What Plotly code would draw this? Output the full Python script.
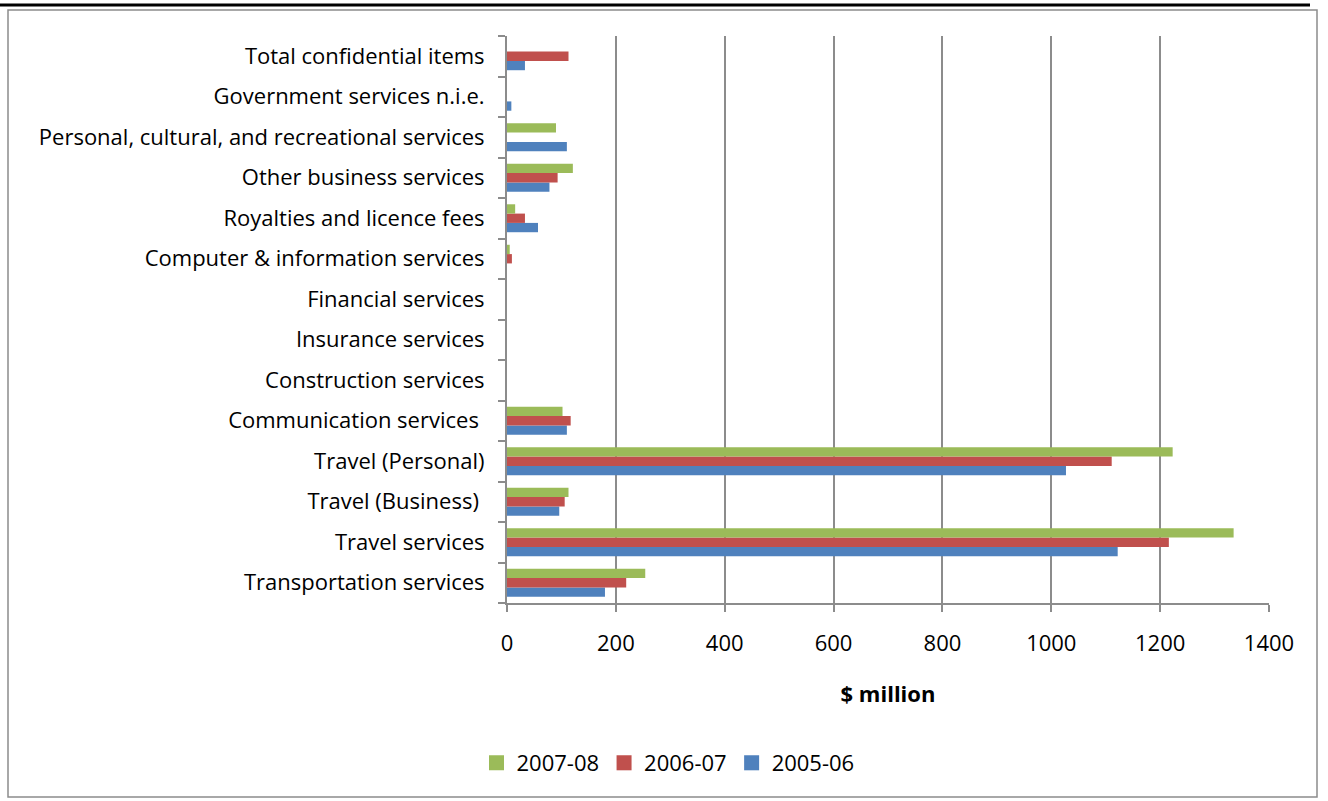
import plotly.graph_objects as go

categories = [
    "Transportation services",
    "Travel services",
    "Travel (Business)\u00a0",
    "Travel (Personal)",
    "Communication services\u00a0",
    "Construction services",
    "Insurance services",
    "Financial services",
    "Computer & information services",
    "Royalties and licence fees",
    "Other business services",
    "Personal, cultural, and recreational services",
    "Government services n.i.e.",
    "Total confidential items",
]

v_2005_06 = [180, 1122, 96, 1027, 110, None, None, None, None, 57, 78, 110, 8, 33]
v_2006_07 = [219, 1216, 106, 1111, 117, None, None, None, 9, 33, 93, None, None, 113]
v_2007_08 = [254, 1335, 113, 1223, 102, None, None, None, 5, 15, 121, 90, None, None]

series = [
    ("2005-06", v_2005_06, "#4F81BD"),
    ("2006-07", v_2006_07, "#C0504D"),
    ("2007-08", v_2007_08, "#9BBB59"),
]

FONT = "Open Sans"
FS = 22
W, H = 1328, 801
L, R, T, B = 507, 1269, 36, 603   # plot area in screenshot pixels
pw, ph = R - L, B - T

def px(x):
    return (x - L) / pw

def py(y):
    return (B - y) / ph

fig = go.Figure()
for name, vals, col in series:
    fig.add_trace(go.Bar(
        y=categories, x=vals, name=name, orientation="h",
        marker=dict(color=col, line=dict(width=0)),
        showlegend=False,
    ))
# legend entries with larger square keys
for name, vals, col in series:
    fig.add_trace(go.Scatter(
        x=[None], y=[None], mode="markers", name=name,
        marker=dict(symbol="square", size=15, color=col),
        showlegend=True,
    ))

fig.update_layout(
    width=W, height=H,
    margin=dict(l=L, r=W - R, t=T, b=H - B, pad=0),
    paper_bgcolor="white", plot_bgcolor="white",
    barmode="group", bargap=0.31, bargroupgap=0,
    font=dict(family=FONT, size=FS, color="black"),
    showlegend=True,
    legend=dict(
        orientation="h", traceorder="reversed",
        x=px(668), xanchor="center", y=py(763), yanchor="middle",
        font=dict(family=FONT, size=FS, color="black"),
        itemwidth=30, bgcolor="rgba(0,0,0,0)",
    ),
    xaxis=dict(
        range=[0, 1400], dtick=200, tick0=0,
        showgrid=True, gridcolor="#8C8C8C", gridwidth=2,
        zeroline=False,
        showline=True, linecolor="#8C8C8C", linewidth=2,
        ticks="outside", ticklen=7, tickwidth=2, tickcolor="#8C8C8C",
        ticklabelstandoff=13,
        tickfont=dict(family=FONT, size=FS, color="black"),
        title=dict(text="<b>$ million</b>", font=dict(family=FONT, size=FS, color="black"), standoff=30),
        fixedrange=True,
    ),
    yaxis=dict(
        type="category", categoryorder="array", categoryarray=categories,
        showgrid=False, zeroline=False,
        showline=True, linecolor="#8C8C8C", linewidth=2,
        ticks="outside", ticklen=7, tickwidth=2, tickcolor="#8C8C8C",
        tickson="boundaries",
        ticklabelstandoff=16,
        tickfont=dict(family=FONT, size=FS, color="black"),
        fixedrange=True,
    ),
    shapes=[
        dict(type="rect", xref="paper", yref="paper",
             x0=px(8), x1=px(1317), y0=py(797), y1=py(10),
             line=dict(color="#8C8C8C", width=1.5), fillcolor="rgba(0,0,0,0)", layer="below"),
        dict(type="line", xref="paper", yref="paper",
             x0=px(0), x1=px(1310), y0=py(5), y1=py(5),
             line=dict(color="black", width=3)),
    ],
)

fig.write_html("out.html", config={"displayModeBar": False},
               post_script="document.body.style.margin='0';")
